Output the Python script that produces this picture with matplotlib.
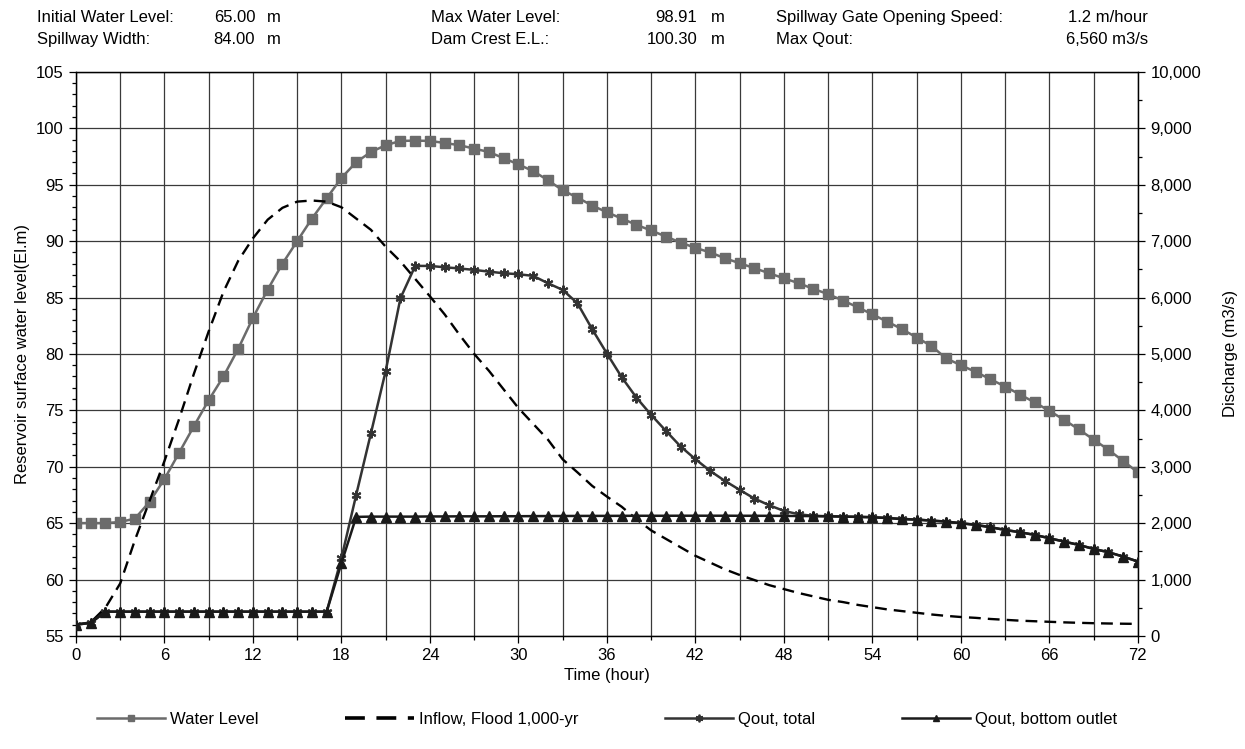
import numpy as np
import matplotlib
matplotlib.use("Agg")
import matplotlib.pyplot as plt
from matplotlib.lines import Line2D
from matplotlib.ticker import MultipleLocator, FuncFormatter

plt.rcParams['font.family'] = ['Liberation Sans', 'DejaVu Sans']
plt.rcParams['font.size'] = 12

# hourly time steps
hours = list(range(0, 73))

# reservoir water level (El. m)
water_level = [65.0, 65.0, 65.0, 65.1, 65.4, 66.9, 68.9, 71.25, 73.6, 75.9,
               78.0, 80.45, 83.2, 85.7, 88.0, 90.0, 92.0, 93.8, 95.6, 97.0,
               97.9, 98.5, 98.88, 98.91, 98.88, 98.7, 98.5, 98.2, 97.9, 97.35,
               96.8, 96.2, 95.4, 94.5, 93.86, 93.15, 92.56, 92.0, 91.44, 90.94,
               90.4, 89.87, 89.4, 89.0, 88.48, 88.04, 87.6, 87.15, 86.7, 86.27,
               85.76, 85.3, 84.73, 84.14, 83.5, 82.86, 82.2, 81.45, 80.7, 79.6,
               79.0, 78.4, 77.76, 77.1, 76.4, 75.7, 74.95, 74.15, 73.3, 72.4,
               71.5, 70.5, 69.5]

# inflow hydrograph, 1,000-yr flood (m3/s)
inflow = [200, 240, 500, 930, 1700, 2400, 3100, 3850, 4650, 5400,
          6100, 6650, 7050, 7380, 7590, 7700, 7720, 7700, 7600, 7400,
          7200, 6900, 6640, 6330, 6020, 5700, 5340, 5000, 4700, 4370,
          4040, 3760, 3480, 3130, 2900, 2660, 2470, 2290, 2070, 1870,
          1720, 1570, 1420, 1300, 1180, 1080, 990, 900, 830, 760,
          700, 640, 600, 550, 510, 470, 440, 410, 380, 355,
          335, 320, 300, 285, 270, 260, 250, 240, 232, 225,
          220, 216, 213]

# bottom outlet discharge (m3/s)
q_bottom = [200, 230, 430, 430, 430, 430, 430, 430, 430, 430,
            430, 430, 430, 430, 430, 430, 430, 430, 1290, 2110,
            2115, 2115, 2115, 2115, 2118, 2118, 2120, 2120, 2120, 2122,
            2122, 2124, 2125, 2126, 2127, 2128, 2128, 2129, 2130, 2130,
            2130, 2131, 2131, 2131, 2131, 2130, 2130, 2129, 2128, 2126,
            2124, 2120, 2115, 2110, 2103, 2090, 2070, 2062, 2044, 2027,
            1998, 1968, 1927, 1879, 1838, 1791, 1732, 1672, 1613, 1542,
            1484, 1406, 1318]

# total outflow (m3/s)
q_total = [200, 230, 430, 430, 430, 430, 430, 430, 430, 430,
           430, 430, 430, 430, 430, 430, 430, 430, 1380, 2500,
           3594, 4698, 5987, 6560, 6560, 6536, 6515, 6489, 6459, 6430,
           6413, 6383, 6253, 6135, 5898, 5438, 5006, 4587, 4225, 3918,
           3635, 3357, 3133, 2925, 2748, 2589, 2435, 2317, 2216, 2157,
           2128, 2122, 2117, 2112, 2105, 2092, 2075, 2062, 2044, 2027,
           1998, 1968, 1927, 1879, 1838, 1791, 1732, 1672, 1613, 1542,
           1484, 1406, 1318]

fig = plt.figure(figsize=(12.45, 7.49), dpi=100)
ax = fig.add_axes([0.061, 0.151, 0.853, 0.753])
ax2 = ax.twinx()

grid_color = '#3a3a3a'
ax.set_xlim(0, 72)
ax.set_ylim(55, 105)
ax2.set_ylim(0, 10000)
ax.xaxis.set_major_locator(MultipleLocator(6))
ax.xaxis.set_minor_locator(MultipleLocator(3))
ax.yaxis.set_major_locator(MultipleLocator(5))
ax.yaxis.set_minor_locator(MultipleLocator(1))
ax2.yaxis.set_major_locator(MultipleLocator(1000))
ax2.yaxis.set_minor_locator(MultipleLocator(500))
ax2.yaxis.set_major_formatter(FuncFormatter(lambda v, p: f"{int(v):,}"))

ax.grid(True, which='major', axis='y', color=grid_color, lw=0.9)
ax.grid(True, which='both', axis='x', color=grid_color, lw=0.9)
ax.set_axisbelow(True)

for a in (ax, ax2):
    a.tick_params(which='major', direction='out', length=5, width=0.9, color='black', labelsize=12, pad=4)
    a.tick_params(which='minor', direction='out', length=3, width=0.9, color='black')
    for s in a.spines.values():
        s.set_color('black')
        s.set_linewidth(0.9)

ax.plot(hours, water_level, color='#6b6b6b', lw=1.8, marker='s', ms=6.5, zorder=3)
ax2.plot(hours, inflow, color='black', lw=1.7, ls=(0, (5, 3)), zorder=3)
ax2.plot(hours, q_total, color='#333333', lw=1.8, marker=(6, 2, 0), ms=7,
         mew=1.5, zorder=4)
ax2.plot(hours, q_bottom, color='#1a1a1a', lw=1.8, marker='^', ms=6.5, zorder=5)

ax.set_xlabel('Time (hour)', fontsize=12, labelpad=3)
ax.set_ylabel('Reservoir surface water level(El.m)', fontsize=12, labelpad=4)
ax2.set_ylabel('Discharge (m3/s)', fontsize=12, labelpad=16)

# header information
row1, row2 = 0.970, 0.941
fig.text(0.030, row1, 'Initial Water Level:', fontsize=12)
fig.text(0.030, row2, 'Spillway Width:', fontsize=12)
fig.text(0.205, row1, '65.00', fontsize=12, ha='right')
fig.text(0.205, row2, '84.00', fontsize=12, ha='right')
fig.text(0.214, row1, 'm', fontsize=12)
fig.text(0.214, row2, 'm', fontsize=12)
fig.text(0.346, row1, 'Max Water Level:', fontsize=12)
fig.text(0.346, row2, 'Dam Crest E.L.:', fontsize=12)
fig.text(0.560, row1, '98.91', fontsize=12, ha='right')
fig.text(0.560, row2, '100.30', fontsize=12, ha='right')
fig.text(0.571, row1, 'm', fontsize=12)
fig.text(0.571, row2, 'm', fontsize=12)
fig.text(0.623, row1, 'Spillway Gate Opening Speed:', fontsize=12)
fig.text(0.623, row2, 'Max Qout:', fontsize=12)
fig.text(0.922, row1, '1.2 m/hour', fontsize=12, ha='right')
fig.text(0.922, row2, '6,560 m3/s', fontsize=12, ha='right')

# legend proxies
handles = [
    Line2D([], [], color='#6b6b6b', lw=1.8, marker='s', ms=5),
    Line2D([], [], color='black', lw=2.6, ls=(0, (5.5, 3.2))),
    Line2D([], [], color='#333333', lw=1.8, marker=(6, 2, 0), ms=5.5, mew=1.3),
    Line2D([], [], color='#1a1a1a', lw=1.8, marker='^', ms=5),
]
labels = ['Water Level', 'Inflow, Flood 1,000-yr', 'Qout, total', 'Qout, bottom outlet']
fig.legend(handles, labels, loc='center', bbox_to_anchor=(0.4876, 0.040),
           ncol=4, frameon=False, fontsize=12, handlelength=4.1,
           handletextpad=0.3, columnspacing=5.2)

fig.savefig('out.png', dpi=100)
